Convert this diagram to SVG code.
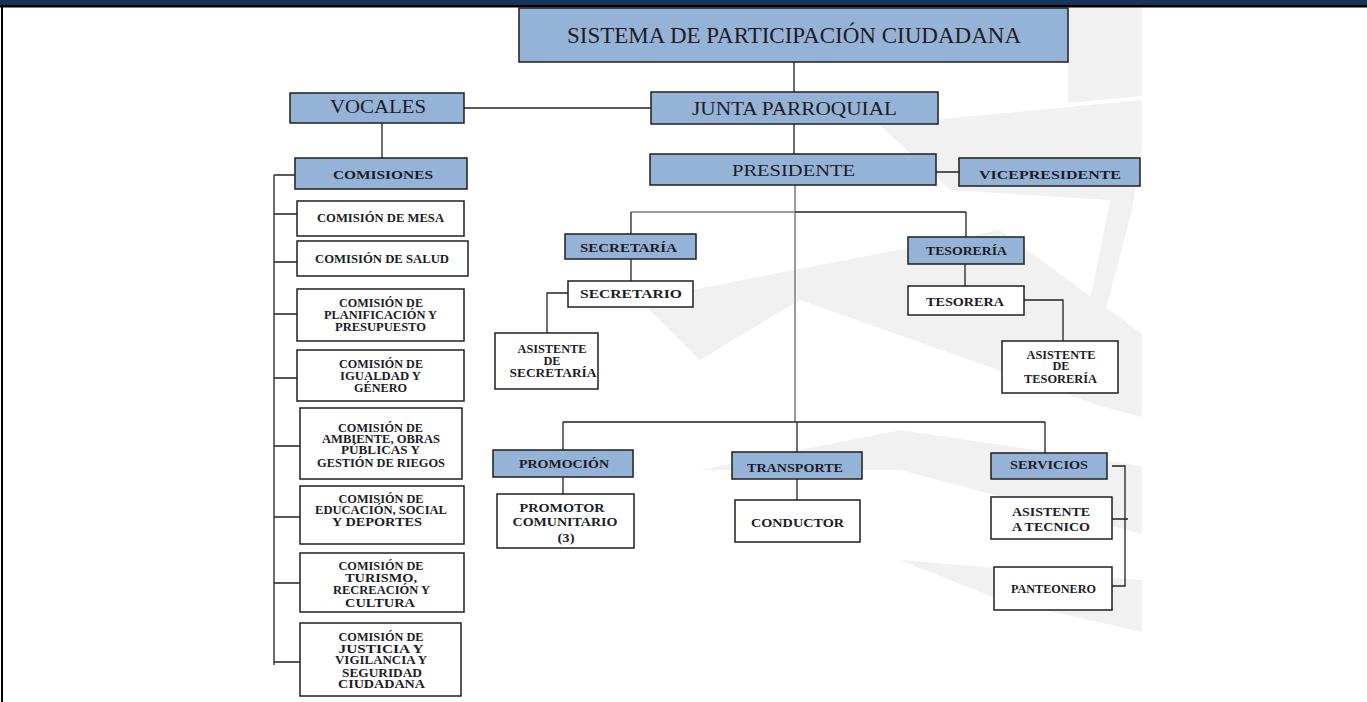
<svg xmlns="http://www.w3.org/2000/svg" width="1367" height="702" viewBox="0 0 1367 702">
<style>
.bl{fill:#95b3d7;stroke:#1f1f1f;stroke-width:1.5}
.wh{fill:#fff;stroke:#1f1f1f;stroke-width:1.5}
.t{font-family:"Liberation Serif","Times New Roman",serif;fill:#1c1c28;text-anchor:middle}
.s11{font-size:11.5px;font-weight:bold}
.s12{font-size:12.5px;font-weight:bold}
.s13{font-size:13.5px;font-weight:bold}
.c{stroke:#222;stroke-width:1.3;fill:none}
.g{stroke:#9a9a9a;stroke-width:2;fill:none}
.wm{fill:#f1f1f1}
</style>
<rect x="0" y="0" width="1367" height="702" fill="#fff"/>
<g id="watermark">
<polygon class="wm" points="1068,7 1142,7 1142,96 1068,103"/>
<polygon class="wm" points="880,125 1142,100 1142,150 1132,210 1100,332 1090,300 1110,200 950,190"/>
<polygon class="wm" points="640,300 1000,230 1142,334 1142,417 1100,406 800,300 700,360"/>
<polygon class="wm" points="700,470 900,430 1142,466 1142,534 900,470"/>
<polygon class="wm" points="900,560 1142,580 1142,632 1000,600"/>
</g>
<rect x="0" y="0" width="1367" height="5" fill="#17335a"/>
<rect x="0" y="5" width="1367" height="2.5" fill="#000"/>
<line x1="2" y1="7" x2="2" y2="702" stroke="#000" stroke-width="2"/>
<g id="connectors">
<path class="c" d="M794 62V92M464 108H651M382 123V158M794 124V154M936 172H959"/>
<path class="g" d="M795 185V422M631 212H795"/>
<path class="c" d="M795 212H966M631 212V234M966 212V237M631 259V281M568 293H547V333M965 264V286M1024 300H1063V341"/>
<path class="c" d="M563 422H1045M563 422V450M797 422V452M1045 422V453M563 477V494M797 479V500"/>
<path class="c" d="M1112 466H1125V586H1112M1112 519H1128"/>
<path class="c" d="M295 175H274M274 175V665M274 214H297M274 262H297M274 314H297M274 378H297M274 446H300M274 517H300M274 583H300M274 662H300"/>
</g>
<g id="sistema"><rect class="bl" x="519" y="8" width="549" height="54"/><text class="t" x="794" y="43" font-size="23" textLength="454" lengthAdjust="spacingAndGlyphs">SISTEMA DE PARTICIPACIÓN CIUDADANA</text></g>
<g id="junta"><rect class="bl" x="651" y="92" width="287" height="32"/><text class="t" x="794.5" y="115" font-size="18" textLength="205" lengthAdjust="spacingAndGlyphs">JUNTA PARROQUIAL</text></g>
<g id="vocales"><rect class="bl" x="290" y="93" width="174" height="30"/><text class="t" x="378" y="113" font-size="18" textLength="96" lengthAdjust="spacingAndGlyphs">VOCALES</text></g>
<g id="comisiones"><rect class="bl" x="295" y="158" width="172" height="31"/><text class="t s13" x="383" y="179" textLength="100" lengthAdjust="spacingAndGlyphs">COMISIONES</text></g>
<g id="presidente"><rect class="bl" x="650" y="154" width="286" height="31"/><text class="t" x="793.5" y="176" font-size="17" textLength="123" lengthAdjust="spacingAndGlyphs">PRESIDENTE</text></g>
<g id="vicepresidente"><rect class="bl" x="959" y="158" width="181" height="28"/><text class="t s13" x="1050" y="179" textLength="142" lengthAdjust="spacingAndGlyphs">VICEPRESIDENTE</text></g>
<g id="secretaria"><rect class="bl" x="565" y="234" width="131" height="25"/><text class="t s12" x="628.5" y="252" textLength="97" lengthAdjust="spacingAndGlyphs">SECRETARÍA</text></g>
<g id="secretario"><rect class="wh" x="568" y="281" width="125" height="26"/><text class="t s12" x="631" y="298" textLength="102" lengthAdjust="spacingAndGlyphs">SECRETARIO</text></g>
<g id="asistente-secretaria"><rect class="wh" x="495" y="333" width="103" height="56"/>
<text class="t s11" x="552" y="353" textLength="69" lengthAdjust="spacingAndGlyphs">ASISTENTE</text>
<text class="t s11" x="552" y="365" textLength="17" lengthAdjust="spacingAndGlyphs">DE</text>
<text class="t s11" x="553" y="377" textLength="87" lengthAdjust="spacingAndGlyphs">SECRETARÍA</text></g>
<g id="tesoreria"><rect class="bl" x="908" y="237" width="116" height="27"/><text class="t s12" x="966.5" y="255" textLength="81" lengthAdjust="spacingAndGlyphs">TESORERÍA</text></g>
<g id="tesorera"><rect class="wh" x="908" y="286" width="116" height="29"/><text class="t s12" x="965" y="306" textLength="78" lengthAdjust="spacingAndGlyphs">TESORERA</text></g>
<g id="asistente-tesoreria"><rect class="wh" x="1002" y="341" width="116" height="52"/>
<text class="t s11" x="1061" y="359" textLength="69" lengthAdjust="spacingAndGlyphs">ASISTENTE</text>
<text class="t s11" x="1061" y="370" textLength="17" lengthAdjust="spacingAndGlyphs">DE</text>
<text class="t s11" x="1060.5" y="383" textLength="73" lengthAdjust="spacingAndGlyphs">TESORERÍA</text></g>
<g id="promocion"><rect class="bl" x="493" y="450" width="140" height="27"/><text class="t s12" x="564" y="468" textLength="90" lengthAdjust="spacingAndGlyphs">PROMOCIÓN</text></g>
<g id="promotor"><rect class="wh" x="497" y="494" width="137" height="54"/>
<text class="t s12" x="562" y="512" textLength="85" lengthAdjust="spacingAndGlyphs">PROMOTOR</text>
<text class="t s12" x="565" y="526" textLength="105" lengthAdjust="spacingAndGlyphs">COMUNITARIO</text>
<text class="t s12" x="566" y="542" textLength="17" lengthAdjust="spacingAndGlyphs">(3)</text></g>
<g id="transporte"><rect class="bl" x="732" y="452" width="130" height="27"/><text class="t s12" x="795" y="472" textLength="96" lengthAdjust="spacingAndGlyphs">TRANSPORTE</text></g>
<g id="conductor"><rect class="wh" x="735" y="500" width="125" height="42"/><text class="t s12" x="797.5" y="527" textLength="93" lengthAdjust="spacingAndGlyphs">CONDUCTOR</text></g>
<g id="servicios"><rect class="bl" x="991" y="453" width="116" height="26"/><text class="t s12" x="1049" y="469" textLength="78" lengthAdjust="spacingAndGlyphs">SERVICIOS</text></g>
<g id="asistente-tecnico"><rect class="wh" x="991" y="497" width="121" height="42"/>
<text class="t s13" x="1051" y="516" textLength="78" lengthAdjust="spacingAndGlyphs">ASISTENTE</text>
<text class="t s13" x="1051" y="531" textLength="78" lengthAdjust="spacingAndGlyphs">A TECNICO</text></g>
<g id="panteonero"><rect class="wh" x="994" y="567" width="118" height="43"/><text class="t s11" x="1053.5" y="593" textLength="85" lengthAdjust="spacingAndGlyphs">PANTEONERO</text></g>
<g id="comision-mesa"><rect class="wh" x="297" y="201" width="167" height="35"/><text class="t s11" x="380.5" y="222" textLength="127" lengthAdjust="spacingAndGlyphs">COMISIÓN DE MESA</text></g>
<g id="comision-salud"><rect class="wh" x="297" y="241" width="171" height="35"/><text class="t s11" x="382" y="263" textLength="134" lengthAdjust="spacingAndGlyphs">COMISIÓN DE SALUD</text></g>
<g id="comision-planificacion"><rect class="wh" x="297" y="289" width="167" height="52"/>
<text class="t s11" x="381" y="307" textLength="84" lengthAdjust="spacingAndGlyphs">COMISIÓN DE</text>
<text class="t s11" x="380.5" y="319" textLength="113" lengthAdjust="spacingAndGlyphs">PLANIFICACIÓN Y</text>
<text class="t s11" x="380.5" y="331" textLength="91" lengthAdjust="spacingAndGlyphs">PRESUPUESTO</text></g>
<g id="comision-igualdad"><rect class="wh" x="297" y="350" width="167" height="51"/>
<text class="t s11" x="381" y="368" textLength="84" lengthAdjust="spacingAndGlyphs">COMISIÓN DE</text>
<text class="t s11" x="380.5" y="380" textLength="81" lengthAdjust="spacingAndGlyphs">IGUALDAD Y</text>
<text class="t s11" x="380.5" y="392" textLength="53" lengthAdjust="spacingAndGlyphs">GÉNERO</text></g>
<g id="comision-ambiente"><rect class="wh" x="300" y="408" width="162" height="71"/>
<text class="t s11" x="380.5" y="432" textLength="85" lengthAdjust="spacingAndGlyphs">COMISIÓN DE</text>
<text class="t s11" x="381" y="443" textLength="118" lengthAdjust="spacingAndGlyphs">AMBIENTE, OBRAS</text>
<text class="t s11" x="380.5" y="454" textLength="79" lengthAdjust="spacingAndGlyphs">PÚBLICAS Y</text>
<text class="t s11" x="381" y="467" textLength="128" lengthAdjust="spacingAndGlyphs">GESTIÓN DE RIEGOS</text></g>
<g id="comision-educacion"><rect class="wh" x="300" y="486" width="164" height="58"/>
<text class="t s11" x="381" y="503" textLength="85" lengthAdjust="spacingAndGlyphs">COMISIÓN DE</text>
<text class="t s11" x="381" y="514" textLength="132" lengthAdjust="spacingAndGlyphs">EDUCACIÓN, SOCIAL</text>
<text class="t s11" x="377" y="526" textLength="90" lengthAdjust="spacingAndGlyphs">Y DEPORTES</text></g>
<g id="comision-turismo"><rect class="wh" x="300" y="553" width="164" height="59"/>
<text class="t s11" x="381" y="570" textLength="85" lengthAdjust="spacingAndGlyphs">COMISIÓN DE</text>
<text class="t s11" x="381" y="582" textLength="72" lengthAdjust="spacingAndGlyphs">TURISMO,</text>
<text class="t s11" x="381.5" y="594" textLength="97" lengthAdjust="spacingAndGlyphs">RECREACIÓN Y</text>
<text class="t s11" x="380" y="607" textLength="70" lengthAdjust="spacingAndGlyphs">CULTURA</text></g>
<g id="comision-justicia"><rect class="wh" x="300" y="623" width="161" height="73"/>
<text class="t s11" x="381" y="641" textLength="85" lengthAdjust="spacingAndGlyphs">COMISIÓN DE</text>
<text class="t s11" x="381" y="653" textLength="85" lengthAdjust="spacingAndGlyphs">JUSTICIA Y</text>
<text class="t s11" x="381" y="664" textLength="92" lengthAdjust="spacingAndGlyphs">VIGILANCIA Y</text>
<text class="t s11" x="382" y="677" textLength="80" lengthAdjust="spacingAndGlyphs">SEGURIDAD</text>
<text class="t s11" x="381.5" y="688" textLength="87" lengthAdjust="spacingAndGlyphs">CIUDADANA</text></g>
</svg>
